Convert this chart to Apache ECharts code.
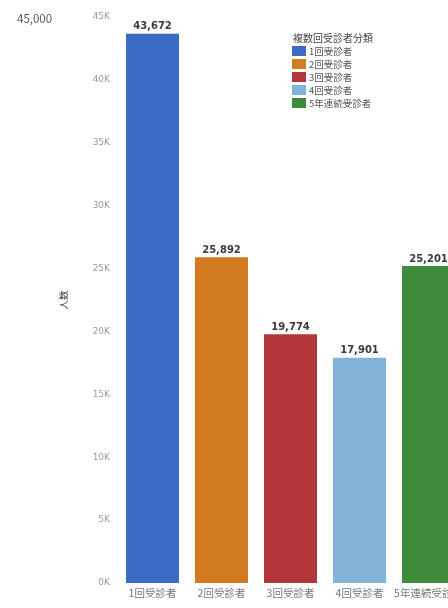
<!DOCTYPE html>
<html>
<head>
<meta charset="utf-8">
<script src="https://cdn.jsdelivr.net/npm/echarts@6/dist/echarts.min.js"></script>
<style>
  html, body { margin: 0; padding: 0; background: #fff; }
  #chart { width: 448px; height: 608px; }
</style>
</head>
<body>
<div id="chart"></div>
<script>
// 複数回受診者分類ごとの人数
const categories = ['1回受診者', '2回受診者', '3回受診者', '4回受診者', '5年連続受診者'];
const counts = [43672, 25892, 19774, 17901, 25201];
const colors = ['#3b6cc4', '#d27a1f', '#b5363a', '#84b3da', '#3e8b3b'];
const yTicks = [0, 5000, 10000, 15000, 20000, 25000, 30000, 35000, 40000, 45000];
const legendTitle = '複数回受診者分類';
const axisName = '人数';
const cornerLabel = '45,000';

const font = '"Noto Sans CJK JP", "Noto Sans", sans-serif';
const latin = '"DejaVu Sans", sans-serif';

// One series per class so each bar gets its own legend entry;
// barGap -100% keeps every bar centred on its own category.
const series = categories.map((name, i) => ({
  name: name,
  type: 'bar',
  barWidth: 53,
  barGap: '-100%',
  itemStyle: { color: colors[i] },
  label: {
    show: true,
    position: 'top',
    distance: 2,
    color: '#3a3a3a',
    fontFamily: latin,
    fontSize: 10,
    fontWeight: 'bold',
    formatter: p => p.value.toLocaleString('en-US')
  },
  data: categories.map((c, j) => (j === i ? counts[i] : '-'))
}));

const chart = echarts.init(document.getElementById('chart'));
chart.setOption({
  animation: false,
  backgroundColor: '#ffffff',
  title: {
    text: legendTitle,
    left: 288,
    top: 28,
    textStyle: { fontFamily: font, fontSize: 10, fontWeight: 'normal', color: '#444' }
  },
  legend: {
    data: categories,
    orient: 'vertical',
    left: 287,
    top: 41,
    itemWidth: 14,
    itemHeight: 10,
    itemGap: 3,
    icon: 'rect',
    textStyle: { fontFamily: font, fontSize: 9.5, color: '#555', padding: [0, 0, 0, -2] }
  },
  graphic: [{
    type: 'text',
    left: 17,
    top: 13,
    style: { text: cornerLabel, fontFamily: font, fontSize: 11.5, fill: '#555' }
  }],
  // the plot runs past the right edge, so the last bar is partly cut off
  grid: { left: 118, width: 345, top: 17, bottom: 25, containLabel: false, outerBoundsMode: 'none' },
  xAxis: {
    type: 'category',
    data: categories,
    axisLine: { show: false },
    axisTick: { show: false },
    axisLabel: { color: '#777', fontFamily: font, fontSize: 10.5, margin: 5, interval: 0, hideOverlap: false }
  },
  yAxis: {
    type: 'value',
    min: yTicks[0],
    max: yTicks[yTicks.length - 1],
    interval: 5000,
    name: axisName,
    nameLocation: 'middle',
    nameGap: 50,
    nameTextStyle: { fontFamily: font, fontSize: 9.5, color: '#333' },
    splitLine: { show: false },
    axisLine: { show: false },
    axisTick: { show: false },
    axisLabel: {
      color: '#9a9a9a',
      fontFamily: latin,
      fontSize: 9,
      margin: 8,
      formatter: v => (v / 1000) + 'K'
    }
  },
  series: series
});
</script>
</body>
</html>
